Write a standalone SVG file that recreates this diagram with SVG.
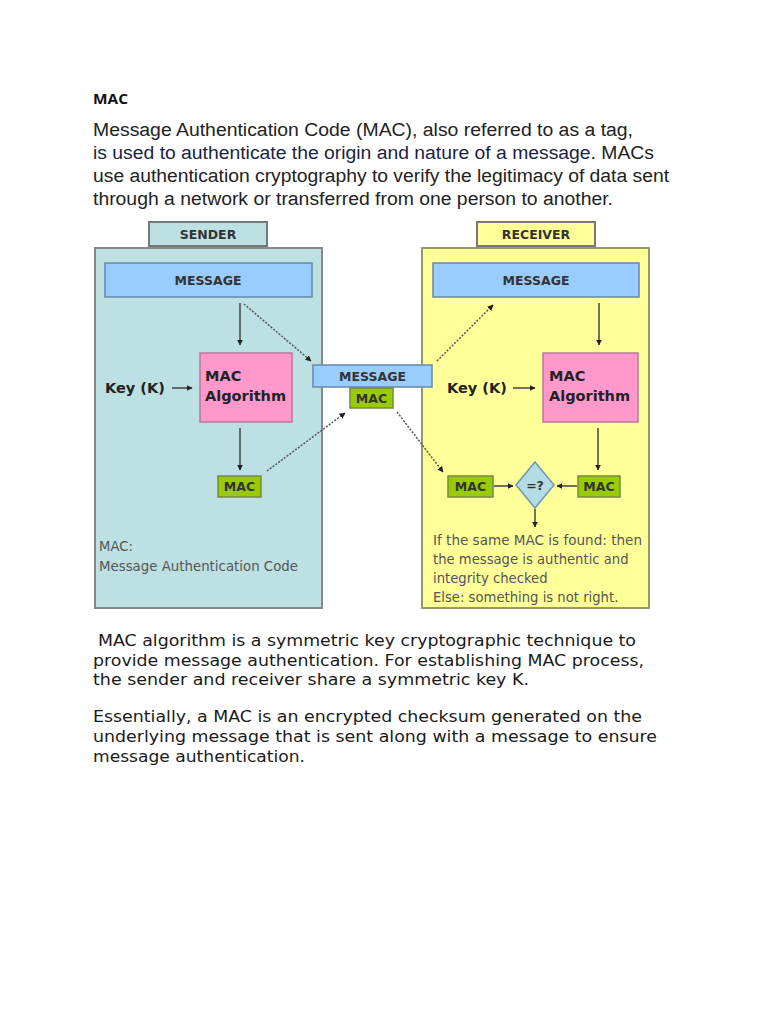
<svg xmlns="http://www.w3.org/2000/svg" width="768" height="1024" viewBox="0 0 768 1024">
<style>
.body{font-family:"Liberation Sans",Arial,sans-serif;font-size:18px;fill:#222}
.verd{font-family:"DejaVu Sans",Verdana,sans-serif;font-size:16px;fill:#1a1a1a}
.lbl{font-family:"DejaVu Sans",Verdana,sans-serif;font-weight:bold;font-size:12.5px;fill:#333;text-anchor:middle}
.big{font-family:"DejaVu Sans",Verdana,sans-serif;font-weight:bold;font-size:14.5px;fill:#222}
.note{font-family:"DejaVu Sans",Verdana,sans-serif;font-size:13.2px;fill:#555}
.msg{fill:#99ccff;stroke:#6688aa;stroke-width:1.5}
.alg{fill:#ff99cc;stroke:#bb7799;stroke-width:1.5}
.mac{fill:#99cc00;stroke:#778844;stroke-width:1.5}
.solid{stroke:#444;stroke-width:1.5;fill:none}
.dash{stroke:#555;stroke-width:1.5;stroke-dasharray:2 1.5;fill:none}
</style>
<defs>
<marker id="ah" viewBox="0 0 10 10" refX="9" refY="5" markerWidth="6" markerHeight="6" orient="auto" markerUnits="userSpaceOnUse">
<path d="M0,0 L10,5 L0,10 z" fill="#222"/>
</marker>
</defs>
<rect width="768" height="1024" fill="#fff"/>
<text x="93" y="104" textLength="35" lengthAdjust="spacingAndGlyphs" style="font-family:'Open Sans','Liberation Sans',sans-serif;font-weight:bold;font-size:13.5px;fill:#111">MAC</text>
<text class="body" x="93" y="136" textLength="540" lengthAdjust="spacingAndGlyphs">Message Authentication Code (MAC), also referred to as a tag,</text>
<text class="body" x="93" y="159" textLength="561" lengthAdjust="spacingAndGlyphs"><tspan fill="#1a1f45">is used to authenticate the origin and nature of a message</tspan>. MACs</text>
<text class="body" x="93" y="182" textLength="576" lengthAdjust="spacingAndGlyphs">use authentication cryptography to verify the legitimacy of data sent</text>
<text class="body" x="93" y="205" textLength="520" lengthAdjust="spacingAndGlyphs">through a network or transferred from one person to another.</text>

<g id="sender">
<rect x="95" y="248" width="227" height="360" fill="#bde0e3" stroke="#888" stroke-width="2"/>
<rect x="149" y="222" width="118" height="24" fill="#bde0e3" stroke="#777" stroke-width="2"/>
<text class="lbl" x="208" y="239">SENDER</text>
<text class="note" x="99" y="551">MAC:</text>
<text class="note" x="99" y="571" textLength="199" lengthAdjust="spacingAndGlyphs">Message Authentication Code</text>
</g>
<g id="receiver">
<rect x="422" y="248" width="227" height="360" fill="#ffff99" stroke="#999966" stroke-width="2"/>
<rect x="477" y="222" width="118" height="24" fill="#ffff99" stroke="#777" stroke-width="2"/>
<text class="lbl" x="536" y="239">RECEIVER</text>
<text class="note" x="433" y="545" textLength="209" lengthAdjust="spacingAndGlyphs">If the same MAC is found: then</text>
<text class="note" x="433" y="564">the message is authentic and</text>
<text class="note" x="433" y="583">integrity checked</text>
<text class="note" x="433" y="602">Else: something is not right.</text>
</g>
<g id="s-message"><rect class="msg" x="105" y="263" width="207" height="34"/><text class="lbl" x="208" y="285">MESSAGE</text></g>
<g id="s-key"><text class="big" x="105" y="393">Key (K)</text></g>
<g id="s-alg"><rect class="alg" x="200" y="353" width="92" height="69"/><text class="big" x="205" y="381">MAC</text><text class="big" x="205" y="401">Algorithm</text></g>
<g id="s-mac"><rect class="mac" x="218" y="476" width="43" height="21"/><text class="lbl" x="239.5" y="491" fill="#222">MAC</text></g>
<g id="t-message"><rect class="msg" x="313" y="365" width="119" height="22"/><text class="lbl" x="372.5" y="381">MESSAGE</text></g>
<g id="t-mac"><rect class="mac" x="350" y="388" width="43" height="20"/><text class="lbl" x="371.5" y="403" fill="#222">MAC</text></g>
<g id="r-message"><rect class="msg" x="433" y="263" width="206" height="34"/><text class="lbl" x="536" y="285">MESSAGE</text></g>
<g id="r-key"><text class="big" x="447" y="393">Key (K)</text></g>
<g id="r-alg"><rect class="alg" x="543" y="353" width="95" height="69"/><text class="big" x="549" y="381">MAC</text><text class="big" x="549" y="401">Algorithm</text></g>
<g id="r-mac1"><rect class="mac" x="448" y="476" width="45" height="21"/><text class="lbl" x="470.5" y="491" fill="#222">MAC</text></g>
<g id="r-mac2"><rect class="mac" x="578" y="476" width="42" height="21"/><text class="lbl" x="599" y="491" fill="#222">MAC</text></g>
<g id="compare"><path d="M535,462 L554,485 L535,508 L516,485 Z" fill="#b3dce6" stroke="#6f9aaa" stroke-width="1.5"/><text class="lbl" x="535" y="490" fill="#333">=?</text></g>

<g id="connectors">
<line class="solid" x1="240" y1="303" x2="240" y2="345" marker-end="url(#ah)"/>
<line class="dash" x1="244" y1="304" x2="311" y2="361" marker-end="url(#ah)"/>
<line class="solid" x1="172" y1="388" x2="192" y2="388" marker-end="url(#ah)"/>
<line class="solid" x1="240" y1="428" x2="240" y2="470" marker-end="url(#ah)"/>
<line class="dash" x1="267" y1="471" x2="345" y2="413" marker-end="url(#ah)"/>
<line class="dash" x1="437" y1="361" x2="493" y2="305" marker-end="url(#ah)"/>
<line class="solid" x1="599" y1="303" x2="599" y2="345" marker-end="url(#ah)"/>
<line class="solid" x1="513" y1="388" x2="535" y2="388" marker-end="url(#ah)"/>
<line class="solid" x1="598" y1="428" x2="598" y2="470" marker-end="url(#ah)"/>
<line class="dash" x1="397" y1="412" x2="443" y2="472" marker-end="url(#ah)"/>
<line class="solid" x1="494" y1="486" x2="513" y2="486" marker-end="url(#ah)"/>
<line class="solid" x1="577" y1="486" x2="557" y2="486" marker-end="url(#ah)"/>
<line class="solid" x1="535" y1="509" x2="535" y2="527" marker-end="url(#ah)"/>
</g>

<text class="verd" x="98" y="646" textLength="538" lengthAdjust="spacingAndGlyphs">MAC algorithm is a symmetric key cryptographic technique to</text>
<text class="verd" x="93" y="666" textLength="551" lengthAdjust="spacingAndGlyphs">provide message authentication. For establishing MAC process,</text>
<text class="verd" x="93" y="685" textLength="436" lengthAdjust="spacingAndGlyphs">the sender and receiver share a symmetric key K.</text>
<text class="verd" x="93" y="722" textLength="549" lengthAdjust="spacingAndGlyphs">Essentially, a MAC is an encrypted checksum generated on the</text>
<text class="verd" x="93" y="742" textLength="564" lengthAdjust="spacingAndGlyphs">underlying message that is sent along with a message to ensure</text>
<text class="verd" x="93" y="762" textLength="212" lengthAdjust="spacingAndGlyphs">message authentication.</text>
</svg>
